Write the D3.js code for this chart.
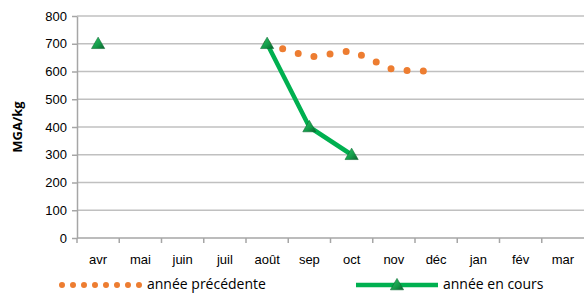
<!DOCTYPE html>
<html>
<head>
<meta charset="utf-8">
<script src="https://cdn.jsdelivr.net/npm/d3@7"></script>
<style>
  body { margin: 0; background: #fff; }
  svg { display: block; font-family: "Open Sans", "Liberation Sans", sans-serif; }
  .grid line { stroke: #c0c0c0; stroke-width: 1.5; }
  .axis path, .axis line { stroke: #a6a6a6; stroke-width: 1.5; }
  .axis text { fill: #000; font-size: 13px; }
</style>
</head>
<body>
<svg id="chart" width="584" height="295"></svg>
<script>
// categories and values
const months = ["avr", "mai", "juin", "juil", "août", "sep", "oct", "nov", "déc", "jan", "fév", "mar"];
const yTicks = [0, 100, 200, 300, 400, 500, 600, 700, 800];
const previousYear = [null, null, null, null, 700, 652, 675, 605, 600, null, null, null];
const currentYear = [700, null, null, null, 700, 400, 300, null, null, null, null, null];
const seriesNames = ["année précédente", "année en cours"];

const svg = d3.select("#chart");
const margin = { left: 77, right: 0, top: 16, bottom: 57 };
const width = 584, height = 295;

const x = d3.scaleBand().domain(months).range([margin.left, 584]);
const y = d3.scaleLinear().domain([0, 800]).range([height - margin.bottom, margin.top]);

// gridlines
svg.append("g").attr("class", "grid")
  .selectAll("line").data(yTicks.filter(d => d > 0)).enter().append("line")
  .attr("x1", margin.left).attr("x2", width)
  .attr("y1", d => y(d)).attr("y2", d => y(d));

// y axis
const yAxis = svg.append("g").attr("class", "axis")
  .attr("transform", `translate(${margin.left},0)`)
  .call(d3.axisLeft(y).tickValues(yTicks).tickSize(5).tickPadding(5).tickSizeOuter(0));

// x axis with ticks at category boundaries
const xAxis = svg.append("g").attr("class", "axis")
  .attr("transform", `translate(0,${y(0)})`)
  .call(d3.axisBottom(x).tickSize(0).tickPadding(17));
xAxis.select(".domain").attr("d", `M${margin.left},0H${width}`);
xAxis.selectAll(".bound").data(months).enter().append("line")
  .attr("class", "bound")
  .attr("x1", d => x(d)).attr("x2", d => x(d))
  .attr("y1", 0).attr("y2", 5);

// y title
svg.append("text")
  .attr("transform", `translate(22,${(y(0) + y(800)) / 2}) rotate(-90)`)
  .attr("text-anchor", "middle")
  .style("font-size", "13px").style("font-weight", "bold")
  .text("MGA/kg");

// gradient for triangle markers
const defs = svg.append("defs");
const grad = defs.append("linearGradient").attr("id", "tri").attr("x1", 0).attr("x2", 1).attr("y1", 0).attr("y2", 1);
grad.append("stop").attr("offset", "0%").attr("stop-color", "#2fc86c");
grad.append("stop").attr("offset", "60%").attr("stop-color", "#139a48");
grad.append("stop").attr("offset", "100%").attr("stop-color", "#0b5e2c");

const cx = d => x(d) + x.bandwidth() / 2;

// previous year dotted line
const prevPts = months.map((m, i) => ({ m, v: previousYear[i] }));
const line = d3.line()
  .defined(d => d.v != null)
  .x(d => cx(d.m)).y(d => y(d.v));

svg.append("path")
  .datum(prevPts)
  .attr("d", line)
  .attr("fill", "none")
  .attr("stroke", "#ed7d31")
  .attr("stroke-width", 7)
  .attr("stroke-linecap", "round")
  .attr("stroke-dasharray", "0 16.3");

// current year line
const curPts = months.map((m, i) => ({ m, v: currentYear[i] }));
svg.append("path")
  .datum(curPts.filter(d => d.v != null && months.indexOf(d.m) >= 4))
  .attr("d", line)
  .attr("fill", "none")
  .attr("stroke", "#00b050")
  .attr("stroke-width", 4.5)
  .attr("stroke-linejoin", "round");

const triangle = d3.symbol().type(d3.symbolTriangle).size(75);
svg.append("g").selectAll("path")
  .data(curPts.filter(d => d.v != null)).enter().append("path")
  .attr("d", triangle)
  .attr("transform", d => `translate(${cx(d.m)},${y(d.v) + 1})`)
  .attr("fill", "url(#tri)")
  .attr("stroke", "#0d6b33")
  .attr("stroke-width", 0.6);

// legend
const legend = svg.append("g").style("font-size", "14px");
legend.append("line")
  .attr("x1", 62).attr("x2", 140).attr("y1", 285).attr("y2", 285)
  .attr("stroke", "#ed7d31").attr("stroke-width", 6)
  .attr("stroke-linecap", "round").attr("stroke-dasharray", "0 11");
legend.append("text").attr("x", 147).attr("y", 289).text(seriesNames[0]);

legend.append("line")
  .attr("x1", 356).attr("x2", 438).attr("y1", 285).attr("y2", 285)
  .attr("stroke", "#00b050").attr("stroke-width", 4.5);
legend.append("path")
  .attr("d", triangle)
  .attr("transform", "translate(397,286)")
  .attr("fill", "url(#tri)").attr("stroke", "#0d6b33").attr("stroke-width", 0.6);
legend.append("text").attr("x", 443).attr("y", 289).text(seriesNames[1]);
</script>
</body>
</html>
